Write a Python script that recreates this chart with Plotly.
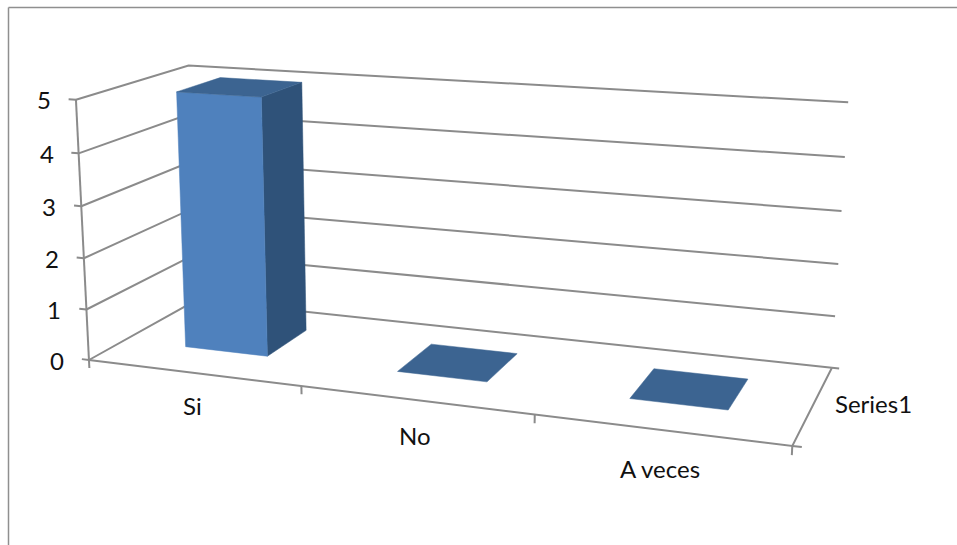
import numpy as np
import plotly.graph_objects as go

# ---- chart data ----
categories = ["Si", "No", "A veces"]
series_name = "Series1"
values = [5, 0, 0]
value_ticks = [0, 1, 2, 3, 4, 5]

# ---- view settings of the 3-D box (perspective camera) ----
EYE = np.array([2.4264, -6.9560, 1.8097])
LOOK_AT = np.array([-0.1612, -0.3597, -0.1036])
UP = np.array([-0.1052, 0.2822, 1.0])
BOX_X, BOX_Z = 2.9777, 1.1226
FOCAL, CX, CY = 1825.9912, 389.8634, 276.7053
BAR_X = (0.3009, 0.6974)
BAR_Y = (0.3155, 0.7259)

# ---- styles ----
AXIS = "#8b8b8b"
FRONT, SIDE, TOP = "#4f81bd", "#2f5279", "#3c6491"
FONT = dict(family="Lato, Carlito, sans-serif", size=24, color="#111111")


def project(x, y, z):
    """Category / depth / value position -> position on the flat view."""
    f = LOOK_AT - EYE
    f = f / np.linalg.norm(f)
    s = np.cross(f, UP)
    s = s / np.linalg.norm(s)
    u = np.cross(s, f)
    d = np.array([(x - 1.5) / 3 * BOX_X, y - 0.5, (z - 2.5) / 5 * BOX_Z]) - EYE
    w = d @ f
    return CX + FOCAL * (d @ s) / w, CY - FOCAL * (d @ u) / w


fig = go.Figure()


def line(*points, width=2):
    xy = [project(*p) for p in points]
    fig.add_trace(go.Scatter(x=[a for a, _ in xy], y=[b for _, b in xy], mode="lines",
                             line=dict(color=AXIS, width=width), hoverinfo="skip"))


def face(color, *points, name=None):
    xy = [project(*p) for p in points]
    xy.append(xy[0])
    fig.add_trace(go.Scatter(x=[a for a, _ in xy], y=[b for _, b in xy], mode="lines",
                             fill="toself", fillcolor=color, line=dict(color=color, width=0.5),
                             name=name, hoverinfo="name"))


n = len(categories)
top_value = max(value_ticks)

# walls: value gridlines on the side wall and the back wall
for v in value_ticks:
    line((0, 0, v), (0, 1, v), (n, 1, v))
    line((-0.035, 0, v), (0, 0, v))
# axes
line((0, 0, 0), (0, 0, top_value))
line((0, 0, 0), (n, 0, 0), (n, 1, 0))
line((n, 0, 0), (n + 0.035, 0, 0))
line((n, 1, 0), (n + 0.03, 1, 0))
for i in range(n + 1):
    line((i, 0, 0), (i, 0, -0.16))

# bars
for i, (cat, val) in enumerate(zip(categories, values)):
    x0, x1 = i + BAR_X[0], i + BAR_X[1]
    y0, y1 = BAR_Y
    if val > 0:
        face(SIDE, (x1, y0, 0), (x1, y1, 0), (x1, y1, val), (x1, y0, val), name=cat)
        face(FRONT, (x0, y0, 0), (x1, y0, 0), (x1, y0, val), (x0, y0, val), name=cat)
    face(TOP, (x0, y0, val), (x1, y0, val), (x1, y1, val), (x0, y1, val), name=cat)

# text
annotations = []
for v in value_ticks:
    px, py = project(0, 0, v)
    annotations.append(dict(x=px, y=py, text=str(v), xanchor="right", xshift=-23, yshift=0))
for i, cat in enumerate(categories):
    px, py = project(i + 0.5, 0, 0)
    annotations.append(dict(x=px, y=py, text=cat, xanchor="center", yshift=-35 + 3 * (1 - i) - 0.5))
px, py = project(n, 0.5, 0)
annotations.append(dict(x=px, y=py, text=series_name, xanchor="left", xshift=20, yshift=1))
for a in annotations:
    a.update(xref="x", yref="y", showarrow=False, font=FONT, yanchor="middle")

fig.update_layout(
    width=957, height=545, margin=dict(l=0, r=0, t=0, b=0),
    paper_bgcolor="white", plot_bgcolor="white", showlegend=False,
    xaxis=dict(range=[0, 957], visible=False, fixedrange=True),
    yaxis=dict(range=[545, 0], visible=False, fixedrange=True),
    annotations=annotations,
    shapes=[
        dict(type="line", xref="x", yref="y", x0=8.5, y0=7.5, x1=957, y1=7.5, line=dict(color="#8f8f8f", width=1.5)),
        dict(type="line", xref="x", yref="y", x0=8.5, y0=7.5, x1=8.5, y1=545, line=dict(color="#8f8f8f", width=1.5)),
    ],
)
fig.write_html("out.html", config=dict(displayModeBar=False),
               post_script="document.body.style.margin='0';document.documentElement.style.overflow='hidden';")
